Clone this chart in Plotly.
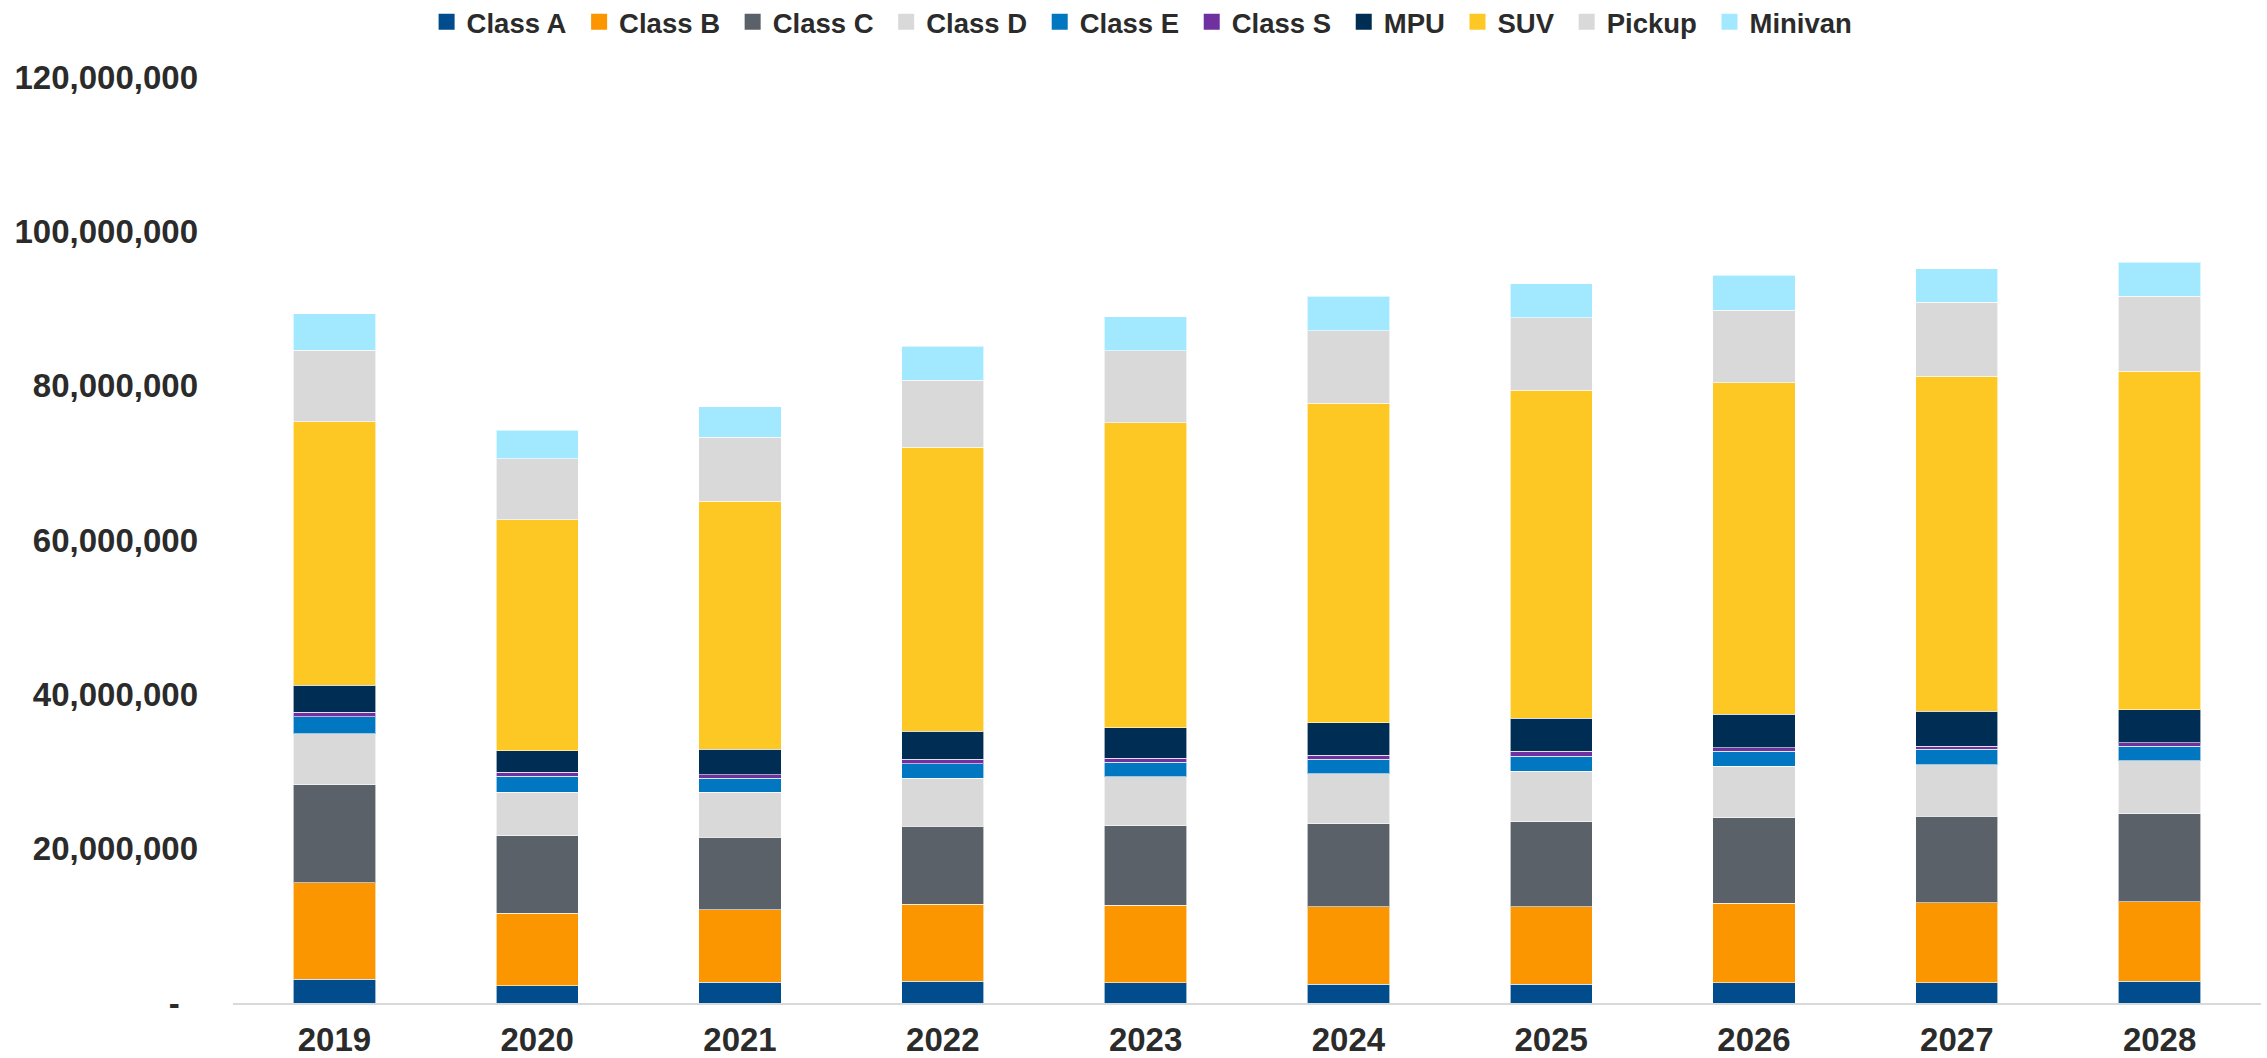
import plotly.graph_objects as go

years = ["2019", "2020", "2021", "2022", "2023", "2024", "2025", "2026", "2027", "2028"]

class_a = [3.05, 2.25, 2.7, 2.8, 2.6, 2.4, 2.4, 2.6, 2.6, 2.8]
class_b = [12.55, 9.35, 9.4, 10.0, 10.1, 10.1, 10.1, 10.3, 10.4, 10.3]
class_c = [12.7, 10.1, 9.4, 10.1, 10.3, 10.7, 11.0, 11.1, 11.2, 11.4]
class_d = [6.6, 5.6, 5.8, 6.2, 6.3, 6.5, 6.55, 6.7, 6.7, 6.9]
class_e = [2.2, 2.1, 1.8, 1.9, 1.9, 1.9, 1.95, 1.9, 2.0, 1.9]
class_s = [0.6, 0.5, 0.5, 0.6, 0.5, 0.5, 0.6, 0.5, 0.4, 0.4]
mpu = [3.5, 2.8, 3.3, 3.6, 4.0, 4.2, 4.3, 4.3, 4.5, 4.3]
suv = [34.1, 29.9, 32.1, 36.8, 39.5, 41.4, 42.5, 43.0, 43.4, 43.9]
pickup = [9.3, 7.9, 8.3, 8.7, 9.3, 9.4, 9.4, 9.4, 9.6, 9.7]
minivan = [4.7, 3.7, 4.0, 4.4, 4.4, 4.5, 4.4, 4.5, 4.35, 4.4]

series_names = ["Class A", "Class B", "Class C", "Class D", "Class E",
                "Class S", "MPU", "SUV", "Pickup", "Minivan"]
series_values = [class_a, class_b, class_c, class_d, class_e,
                 class_s, mpu, suv, pickup, minivan]
series_colors = ["#004C8C", "#FB9600", "#5B6169", "#D9D9D9", "#0077C0",
                 "#7030A0", "#002D54", "#FEC824", "#D9D9D9", "#A2E9FF"]

y_tick_vals = [0, 20e6, 40e6, 60e6, 80e6, 100e6, 120e6]
y_tick_text = ["-\u00a0\u00a0", "20,000,000", "40,000,000", "60,000,000",
               "80,000,000", "100,000,000", "120,000,000"]

FONT = "Liberation Sans"
TXT = "#2B2B2B"

fig = go.Figure()
for name, vals, col in zip(series_names, series_values, series_colors):
    fig.add_trace(go.Bar(
        name=name,
        x=years,
        y=[v * 1e6 for v in vals],
        marker=dict(color=col, line=dict(color="rgba(255,255,255,0.6)", width=1)),
        showlegend=False,
    ))
# legend entries with larger square swatches
for name, col in zip(series_names, series_colors):
    fig.add_trace(go.Scatter(
        name=name + "\u00a0", x=[None], y=[None], mode="markers",
        marker=dict(symbol="square", size=18, color=col),
        showlegend=True, hoverinfo="skip",
    ))

fig.update_layout(
    width=2267, height=1058,
    autosize=False,
    barmode="stack",
    bargap=0.594,
    plot_bgcolor="white",
    paper_bgcolor="white",
    margin=dict(l=233, r=6, t=77, b=55, autoexpand=False),
    font=dict(family=FONT, color=TXT, size=34),
    showlegend=True,
    legend=dict(
        orientation="h",
        traceorder="normal",
        x=0.450, xanchor="center",
        y=1.0594, yanchor="middle",
        font=dict(size=27.5, family=FONT, color=TXT, weight="bold"),
        itemwidth=30,
        tracegroupgap=0,
        bgcolor="rgba(0,0,0,0)",
    ),
    xaxis=dict(
        showline=True, linecolor="#D9D9D9", linewidth=2,
        showgrid=False, ticks="",
        tickfont=dict(size=33, family=FONT, color=TXT, weight="bold"),
        ticklabelstandoff=6,
        tickangle=0,
    ),
    yaxis=dict(
        range=[0, 120e6],
        tickvals=y_tick_vals, ticktext=y_tick_text,
        showgrid=False, zeroline=False, showline=False, ticks="",
        tickfont=dict(size=33, family=FONT, color=TXT, weight="bold"),
        ticklabelstandoff=34,
    ),
)

fig.write_html(
    "out.html",
    config={"displayModeBar": False},
    post_script="document.body.style.margin='0';document.body.style.overflow='hidden';",
)
